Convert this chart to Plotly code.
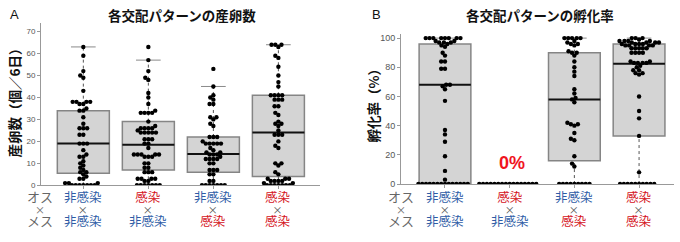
import math
import plotly.graph_objects as go

W, H = 680, 242

# ---------------- data ----------------
male_labels = ["非感染", "感染", "非感染", "感染"]
female_labels = ["非感染", "非感染", "感染", "感染"]

# Panel A: eggs laid per 6 days
eggs_g1 = [63, 59, 52, 50, 49, 43, 38, 38, 38, 38, 37, 37, 35, 34, 34, 31, 28, 26, 26, 26,
           23, 23, 19, 19, 19, 16, 14, 13, 13, 11, 10, 9, 8, 7, 6, 6, 5, 4, 3, 3,
           1, 1, 1, 0, 0, 0, 0, 0, 0, 0]
eggs_g2 = [63, 57, 52, 49, 48, 42, 40, 37, 34, 33, 33, 33, 33, 29, 27, 26, 26, 26, 26, 25,
           24, 24, 24, 24, 24, 21, 21, 21, 19, 19, 17, 14, 14, 14, 14, 14, 13, 13, 13, 10,
           10, 8, 8, 6, 6, 6, 3, 3, 3, 3, 2, 2, 0, 0, 0, 0, 0, 0, 0]
eggs_g3 = [53, 45, 41, 40, 39, 37, 37, 31, 31, 30, 28, 27, 22, 22, 22, 20, 19, 19, 19, 19,
           19, 17, 16, 15, 15, 14, 14, 14, 13, 12, 12, 12, 12, 10, 10, 7, 7, 7, 5, 5,
           2, 2, 0, 0, 0, 0, 0, 0, 0]
eggs_g4 = [64, 64, 64, 63, 59, 58, 54, 50, 47, 45, 41, 41, 41, 41, 39, 39, 39, 36, 36, 33,
           32, 29, 28, 28, 27, 25, 23, 23, 23, 20, 18, 17, 10, 10, 9, 6, 5, 3, 3, 3,
           2, 2, 2, 2, 1, 1, 0, 0, 0, 0, 0, 0, 0]
eggs_q1 = [5.5, 7, 6, 4]
eggs_med = [19, 18.5, 14.2, 24]
eggs_q3 = [34, 29, 22, 41]
eggs_lo = [0, 0, 0, 0]
eggs_hi = [63, 57, 45, 64]

# Panel B: hatching rate (%)
hatch_g1 = [100] * 8 + [98, 98, 97, 97, 97, 96, 95, 94, 90, 88, 84, 84, 79, 79, 68, 68, 67, 65,
                        57, 37, 34, 29, 19, 9, 3] + [0] * 14
hatch_g2 = [0] * 16
hatch_g3 = [100] * 5 + [98, 97, 96, 96, 95, 91, 90, 90, 88, 84, 80, 77, 74, 65, 62, 59, 58, 56,
                        42, 41, 41, 40, 35, 31, 30, 19, 14, 12] + [0] * 9
hatch_g4 = [100] * 3 + [99] + [98] * 4 + [97] * 4 + [96] * 4 + [95] * 4 + [93] * 5 + [90] * 4 + \
           [84, 84, 83, 83, 83, 83, 81, 80, 78, 78, 76, 76, 75, 60, 50, 45, 33, 8] + [0] * 10
hatch_q1 = [0, 0, 16, 33]
hatch_med = [68, 0, 58, 82.5]
hatch_q3 = [96, 0, 90, 96]
hatch_lo = [0, 0, 0, 0]
hatch_hi = [100, 0, 100, 100]

eggs_groups = [eggs_g1, eggs_g2, eggs_g3, eggs_g4]
hatch_groups = [hatch_g1, hatch_g2, hatch_g3, hatch_g4]

# ---------------- layout geometry ----------------
A_dom_x = [41 / W, 320 / W]
A_dom_y = [53 / H, 219 / H]
A_xr = [-0.651, 3.64]
A_yr = [0, 73.7]
B_dom_x = [401 / W, 674 / W]
B_dom_y = [(H - 187.7) / H, (H - 34.3) / H]
B_xr = [-0.68, 3.54]
B_yr = [0, 102.5]

BLUE = "#2E5CA6"
RED = "#D4111B"
JP = "Noto Sans CJK JP"
LAT = "Liberation Sans"


def scale(dom, rng, size):
    return (dom[1] - dom[0]) * size / (rng[1] - rng[0])


def swarm(vals, ppx, ppy, d=3.8):
    order = sorted(range(len(vals)), key=lambda i: vals[i])
    placed = []
    xs = [0.0] * len(vals)
    for i in order:
        y = vals[i] * ppy
        cands = [0.0]
        for px, py in placed:
            dy = abs(py - y)
            if dy < d:
                dx = math.sqrt(d * d - dy * dy)
                cands += [px + dx, px - dx]
        cands.sort(key=lambda c: (round(abs(c), 6), c))
        for c in cands:
            if all((c - px) ** 2 + (y - py) ** 2 >= d * d - 1e-6 for px, py in placed):
                xs[i] = c / ppx
                placed.append((c, y))
                break
    return xs


fig = go.Figure()
shapes = []


def add_panel(groups, q1, med, q3, lo, hi, xa, ya, dom_x, dom_y, xr, yr):
    ppx = scale(dom_x, xr, W)
    ppy = scale(dom_y, yr, H)
    bw = 0.4
    cw = 0.19
    for k in range(4):
        if hi[k] > q3[k]:
            shapes.append(dict(type="line", xref=xa, yref=ya, x0=k, x1=k, y0=q3[k], y1=hi[k],
                               line=dict(color="#555", width=1, dash="dot"), layer="below"))
            shapes.append(dict(type="line", xref=xa, yref=ya, x0=k - cw, x1=k + cw, y0=hi[k], y1=hi[k],
                               line=dict(color="#8a8a8a", width=1), layer="below"))
        if lo[k] < q1[k]:
            shapes.append(dict(type="line", xref=xa, yref=ya, x0=k, x1=k, y0=lo[k], y1=q1[k],
                               line=dict(color="#555", width=1, dash="dot"), layer="below"))
        shapes.append(dict(type="rect", xref=xa, yref=ya, x0=k - bw, x1=k + bw, y0=q1[k], y1=q3[k],
                           fillcolor="#d4d4d4", line=dict(color="#858585", width=1.5), layer="below"))
        shapes.append(dict(type="line", xref=xa, yref=ya, x0=k - bw, x1=k + bw, y0=med[k], y1=med[k],
                           line=dict(color="#111", width=2), layer="below"))
        vals = groups[k]
        offs = swarm(vals, ppx, ppy)
        fig.add_trace(go.Scatter(x=[k + o for o in offs], y=vals, mode="markers", xaxis=xa, yaxis=ya,
                                 marker=dict(color="black", size=4.4, line=dict(width=0)),
                                 cliponaxis=True, showlegend=False, hoverinfo="skip"))


add_panel(eggs_groups, eggs_q1, eggs_med, eggs_q3, eggs_lo, eggs_hi, "x", "y", A_dom_x, A_dom_y, A_xr, A_yr)
add_panel(hatch_groups, hatch_q1, hatch_med, hatch_q3, hatch_lo, hatch_hi, "x2", "y2", B_dom_x, B_dom_y, B_xr, B_yr)

axis_common = dict(showgrid=False, zeroline=False, showline=True, linecolor="#999", linewidth=1,
                   ticks="outside", ticklen=3, tickcolor="#999", fixedrange=True)

fig.update_layout(
    width=W, height=H, margin=dict(l=0, r=0, t=0, b=0),
    paper_bgcolor="white", plot_bgcolor="white", showlegend=False,
    xaxis=dict(domain=A_dom_x, range=A_xr, anchor="y", tickvals=[0, 1, 2, 3], ticktext=[""] * 4, **axis_common),
    yaxis=dict(domain=A_dom_y, range=A_yr, anchor="x", tickvals=list(range(0, 71, 10)),
               tickfont=dict(family=LAT, size=8, color="#555"), **axis_common),
    xaxis2=dict(domain=B_dom_x, range=B_xr, anchor="y2", tickvals=[0, 1, 2, 3], ticktext=[""] * 4, **axis_common),
    yaxis2=dict(domain=B_dom_y, range=B_yr, anchor="x2", tickvals=list(range(0, 101, 20)),
                tickfont=dict(family=LAT, size=9, color="#555"), **axis_common),
    shapes=shapes,
)

ann = []


def color_of(lbl):
    return BLUE if lbl == "非感染" else RED


def span(txt, color, size):
    return f'<span style="color:{color};font-size:{size}px">{txt}</span>'


mid_y = (H - 213) / H
for xa, gx in (("x", 40 / W), ("x2", 401 / W)):
    ann.append(dict(text=span("オス", "#666", 13) + "<br>" + span("×", "#666", 10) + "<br>" + span("メス", "#666", 13),
                    xref="paper", yref="paper", x=gx, y=mid_y, showarrow=False,
                    font=dict(family=JP, size=9.2, color="#666"), xanchor="center", yanchor="middle"))
    for k in range(4):
        txt = (span(male_labels[k], color_of(male_labels[k]), 12.5) + "<br>" + span("×", "#555", 10) + "<br>" +
               span(female_labels[k], color_of(female_labels[k]), 12.5))
        ann.append(dict(text=txt, xref=xa, yref="paper", x=k, y=mid_y, showarrow=False,
                        font=dict(family=JP, size=9.2, color="#555"), xanchor="center", yanchor="middle"))

ann += [
    dict(text="<b>各交配パターンの産卵数</b>", xref="paper", yref="paper", x=182 / W, y=(H - 14) / H,
         showarrow=False, font=dict(family=JP, size=13.5, color="#111"), xanchor="center", yanchor="middle"),
    dict(text="<b>各交配パターンの孵化率</b>", xref="paper", yref="paper", x=539.5 / W, y=(H - 14) / H,
         showarrow=False, font=dict(family=JP, size=13.5, color="#111"), xanchor="center", yanchor="middle"),
    dict(text="A", xref="paper", yref="paper", x=14 / W, y=(H - 14) / H, showarrow=False,
         font=dict(family=LAT, size=13, color="#111"), xanchor="center", yanchor="middle"),
    dict(text="B", xref="paper", yref="paper", x=376 / W, y=(H - 14) / H, showarrow=False,
         font=dict(family=LAT, size=13, color="#111"), xanchor="center", yanchor="middle"),
    dict(text="<b>産卵数（個／6日）</b>", xref="paper", yref="paper", x=14 / W, y=(H - 101) / H, textangle=-90,
         showarrow=False, font=dict(family=JP, size=13.5, color="#111"), xanchor="center", yanchor="middle"),
    dict(text="<b>孵化率（%）</b>", xref="paper", yref="paper", x=373 / W, y=(H - 104) / H, textangle=-90,
         showarrow=False, font=dict(family=JP, size=13.5, color="#111"), xanchor="center", yanchor="middle"),
    dict(text="<b>0%</b>", xref="x2", yref="y2", x=1.04, y=14.5, showarrow=False,
         font=dict(family=LAT, size=18, color="#F0141E"), xanchor="center", yanchor="middle"),
]
fig.update_layout(annotations=ann)

fig.write_html("out.html")
